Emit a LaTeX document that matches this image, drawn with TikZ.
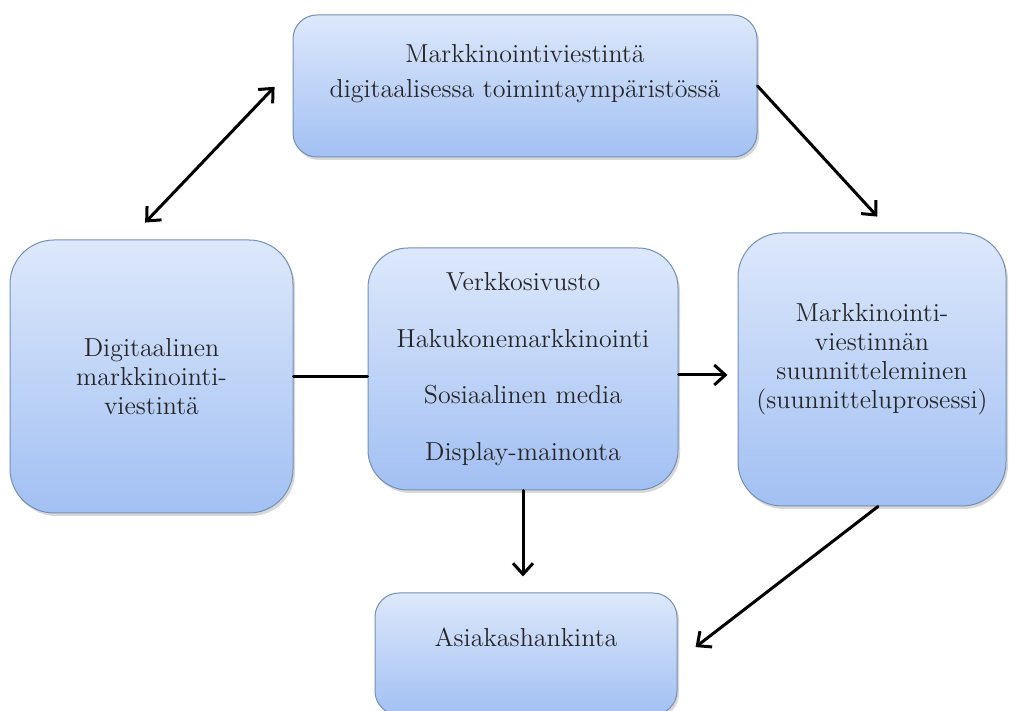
\documentclass[tikz,border=0pt]{standalone}
\usepackage{tikz}
\usetikzlibrary{arrows.meta}
\usetikzlibrary{shadows}
\usepackage{xcolor}

\definecolor{boxtop}{HTML}{DDE8FB}
\definecolor{boxbot}{HTML}{A2C0F3}
\definecolor{boxline}{HTML}{7590B5}

\tikzset{
  box/.style={draw=boxline, line width=0.5pt, top color=boxtop, bottom color=boxbot,
              drop shadow={opacity=0.3, shadow xshift=1pt, shadow yshift=-1.5pt},
              align=center, text=black!85, font=\fontsize{13}{14.5}\selectfont},
  txt/.style={align=center, text=black!85, font=\fontsize{13}{14.5}\selectfont},
  link/.style={line width=1.5pt, line cap=round}
}

\begin{document}
\begin{tikzpicture}[x=0.5pt, y=-0.5pt, >={Straight Barb[length=5.5pt,width=10pt]}]

\clip (0,0) rectangle (1009,711);
\fill[white] (0,0) rectangle (1009,711);

% the five boxes
\node[box, minimum width=232pt, minimum height=71pt, rounded corners=12pt] (top) at (525,86) {};
\node[txt] (toptxt) at (525,74) {Markkinointiviestintä\\[3pt]digitaalisessa toimintaympäristössä};

\node[box, minimum width=141.5pt, minimum height=136.5pt, rounded corners=22pt] (left) at (151.5,376.5)
  {Digitaalinen\\markkinointi-\\viestintä};

\node[box, minimum width=155pt, minimum height=121pt, rounded corners=20pt] (mid) at (523,369)
  {Verkkosivusto\\[13.75pt]Hakukonemarkkinointi\\[13.75pt]Sosiaalinen media\\[13.75pt]Display-mainonta};

\node[box, minimum width=134pt, minimum height=136.5pt, rounded corners=22pt] (right) at (872,369.5) {};
\node[txt] (righttxt) at (872,359) {Markkinointi-\\viestinnän\\suunnitteleminen\\(suunnitteluprosessi)};

\node[box, minimum width=151pt, minimum height=61pt, rounded corners=12pt] (bot) at (526,654) {};
\node[txt] (bottxt) at (526,637) {Asiakashankinta};

% connectors
\draw[link, <->, shorten <=11.7pt, shorten >=13pt] ([xshift=-11.25pt]left.north) -- ([yshift=9pt]top.west);
\draw[link, ->, shorten >=10.8pt] (top.east) -- ([xshift=10pt]right.north);
\draw[link] (left.east) -- (left.east -| mid.west);
\draw[link, ->, shorten >=5pt] ([yshift=-3pt]mid.east) -- ([yshift=-3pt]mid.east -| right.west);
\draw[link, ->, shorten >=8pt] (mid.south) -- (mid.south |- bot.north);
\draw[link, ->, shorten >=11.4pt] ([xshift=3pt]right.south) -- ([yshift=-3.5pt]bot.east);

\end{tikzpicture}
\end{document}
